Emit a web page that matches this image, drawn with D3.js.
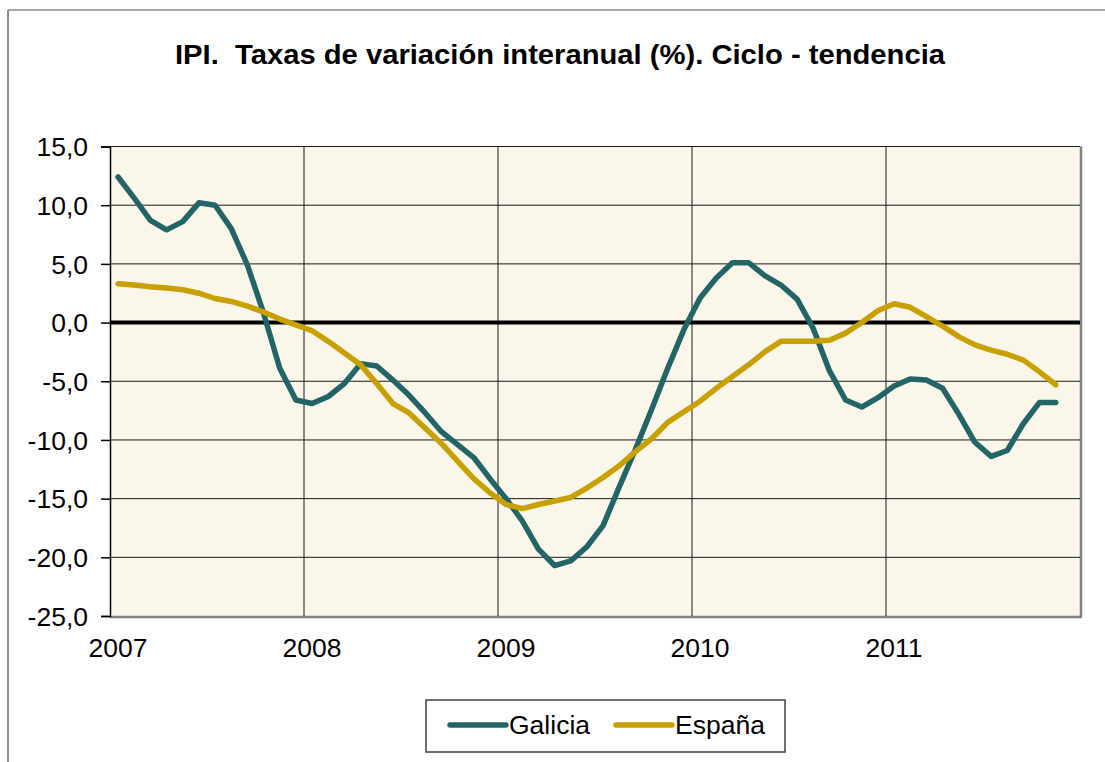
<!DOCTYPE html>
<html>
<head>
<meta charset="utf-8">
<script src="https://cdn.jsdelivr.net/npm/d3@7"></script>
<style>
  body { margin: 0; background: #fff; }
  text { font-family: "Liberation Sans", Arial, sans-serif; fill: #000; }
</style>
</head>
<body>
<svg id="chart" width="1105" height="762"></svg>
<script>
// monthly values, Jan 2007 - Nov 2011
var galicia = [12.4, 10.6, 8.7, 7.9, 8.6, 10.2, 10.0, 8.0, 4.9, 0.8, -3.9, -6.6,
  -6.9, -6.3, -5.2, -3.5, -3.7, -4.9, -6.2, -7.7, -9.3, -10.4, -11.5, -13.3,
  -15.0, -16.9, -19.3, -20.7, -20.3, -19.1, -17.3, -14.0, -10.8, -7.4, -3.9, -0.6,
  2.1, 3.8, 5.1, 5.1, 4.0, 3.2, 2.0, -0.5, -4.1, -6.6, -7.2, -6.4,
  -5.4, -4.8, -4.9, -5.6, -7.8, -10.2, -11.4, -10.9, -8.6, -6.8, -6.8];
var espana = [3.3, 3.2, 3.05, 2.95, 2.8, 2.5, 2.05, 1.8, 1.4, 0.9, 0.3, -0.2,
  -0.7, -1.6, -2.6, -3.6, -5.2, -6.9, -7.7, -9.0, -10.3, -11.8, -13.3, -14.5,
  -15.5, -15.85, -15.5, -15.2, -14.9, -14.1, -13.2, -12.2, -11.0, -9.9, -8.5, -7.6,
  -6.7, -5.6, -4.6, -3.6, -2.5, -1.6, -1.6, -1.6, -1.5, -0.9, 0.0, 1.0,
  1.6, 1.3, 0.5, -0.3, -1.2, -1.9, -2.35, -2.7, -3.2, -4.2, -5.3];
var years = ["2007", "2008", "2009", "2010", "2011"];
var yTicks = [15, 10, 5, 0, -5, -10, -15, -20, -25];
var seriesNames = ["Galicia", "España"];
var colors = ["#236466", "#C8A000"];

var svg = d3.select("#chart"),
    margin = {top: 146.5, right: 25, bottom: 146, left: 110},
    width = +svg.attr("width") - margin.left - margin.right,
    height = +svg.attr("height") - margin.top - margin.bottom;

// outer frame (only top and left edges visible)
svg.append("line").attr("x1", 8).attr("x2", 1105).attr("y1", 10).attr("y2", 10)
  .attr("stroke", "#a6a6a6").attr("stroke-width", 2);
svg.append("line").attr("x1", 8).attr("x2", 8).attr("y1", 10).attr("y2", 762)
  .attr("stroke", "#8c8c8c").attr("stroke-width", 2);

svg.append("text")
  .attr("x", 560).attr("y", 64)
  .attr("text-anchor", "middle")
  .style("font-size", "27px").style("font-weight", "bold")
  .style("white-space", "pre")
  .attr("textLength", 770).attr("lengthAdjust", "spacingAndGlyphs")
  .text("IPI.  Taxas de variación interanual (%). Ciclo - tendencia");

var months = d3.range(60);
var x = d3.scaleBand().domain(months).range([0, width]);
var y = d3.scaleLinear().domain([-25, 15]).range([height, 0]);

var g = svg.append("g")
  .attr("transform", "translate(" + margin.left + "," + margin.top + ")");

// plot background + border
g.append("rect")
  .attr("x", 0).attr("y", 0).attr("width", width).attr("height", height)
  .attr("fill", "#FAF6E9");
g.append("line").attr("x1", width + 1).attr("x2", width + 1).attr("y1", 0).attr("y2", height + 1)
  .attr("stroke", "#808080").attr("stroke-width", 2.5);
g.append("line").attr("x1", 0).attr("x2", width + 2).attr("y1", height + 1).attr("y2", height + 1)
  .attr("stroke", "#808080").attr("stroke-width", 2.5);

// horizontal gridlines
g.selectAll("line.hgrid")
  .data(yTicks.filter(function(d) { return d !== 0 && d !== -25; }))
  .enter().append("line")
  .attr("class", "hgrid")
  .attr("x1", 0).attr("x2", width)
  .attr("y1", function(d) { return y(d); })
  .attr("y2", function(d) { return y(d); })
  .attr("stroke", "#1a1a1a").attr("stroke-width", 1);

// vertical gridlines at year boundaries
g.selectAll("line.vgrid")
  .data([12, 24, 36, 48])
  .enter().append("line")
  .attr("class", "vgrid")
  .attr("x1", function(d) { return x(d); })
  .attr("x2", function(d) { return x(d); })
  .attr("y1", 0).attr("y2", height)
  .attr("stroke", "#1a1a1a").attr("stroke-width", 1);

// y axis
var yAxis = g.append("g")
  .call(d3.axisLeft(y).tickValues(yTicks).tickSize(9).tickPadding(13)
    .tickFormat(function(d) { return d.toFixed(1).replace(".", ","); }));
yAxis.select(".domain").attr("stroke", "#000").attr("stroke-width", 1.5);
yAxis.selectAll(".tick line").attr("stroke", "#000").attr("stroke-width", 1.5);
yAxis.selectAll("text").style("font-size", "26.5px").attr("dy", "0.35em");

// year labels
g.selectAll("text.year")
  .data(years)
  .enter().append("text")
  .attr("class", "year")
  .attr("x", function(d, i) { return x(i * 12) + x.bandwidth() / 2; })
  .attr("y", height + 41)
  .attr("text-anchor", "middle")
  .style("font-size", "26.5px")
  .text(function(d) { return d; });

// zero line
g.append("line")
  .attr("x1", 0).attr("x2", width)
  .attr("y1", y(0)).attr("y2", y(0))
  .attr("stroke", "#000").attr("stroke-width", 4);

var line = d3.line()
  .x(function(d, i) { return x(i) + x.bandwidth() / 2; })
  .y(function(d) { return y(d); });

[galicia, espana].forEach(function(s, k) {
  g.append("path")
    .datum(s)
    .attr("fill", "none")
    .attr("stroke", colors[k])
    .attr("stroke-width", 5.5)
    .attr("stroke-linejoin", "round")
    .attr("stroke-linecap", "round")
    .attr("d", line);
});

// legend
var legend = svg.append("g");
legend.append("rect")
  .attr("x", 426).attr("y", 700).attr("width", 359).attr("height", 52)
  .attr("fill", "#fff").attr("stroke", "#404040").attr("stroke-width", 1.5);
var legX = [450, 616];
seriesNames.forEach(function(name, k) {
  legend.append("line")
    .attr("x1", legX[k]).attr("x2", legX[k] + 56)
    .attr("y1", 725).attr("y2", 725)
    .attr("stroke", colors[k]).attr("stroke-width", 5.5)
    .attr("stroke-linecap", "round");
  legend.append("text")
    .attr("x", legX[k] + 59).attr("y", 734)
    .style("font-size", "26.5px")
    .text(name);
});
</script>
</body>
</html>
